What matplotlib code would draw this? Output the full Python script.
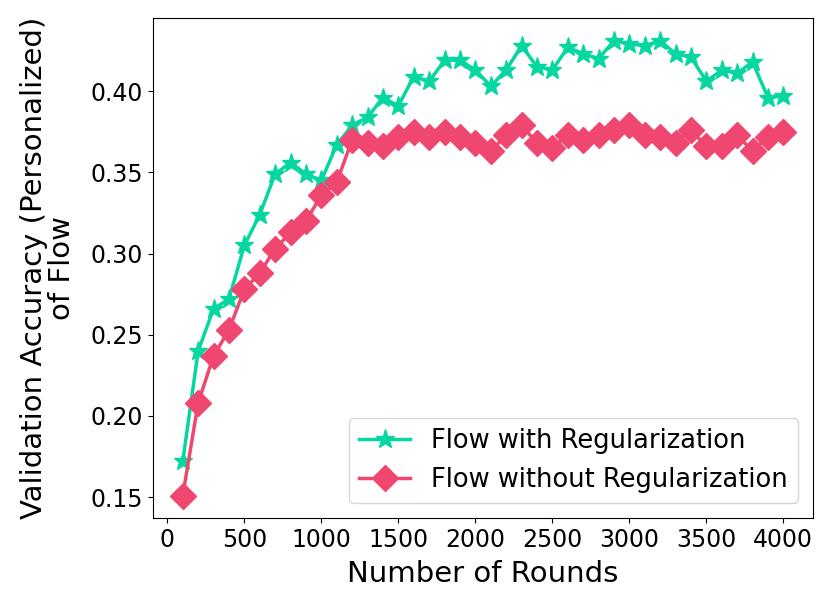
import numpy as np
import matplotlib
matplotlib.use('Agg')
import matplotlib.pyplot as plt

rounds = np.arange(100, 4001, 100)

acc_with_reg = [0.172, 0.240, 0.266, 0.272, 0.305, 0.324, 0.349, 0.356, 0.349, 0.345,
                0.367, 0.379, 0.384, 0.396, 0.391, 0.409, 0.406, 0.419, 0.419, 0.413,
                0.403, 0.413, 0.428, 0.415, 0.413, 0.427, 0.423, 0.420, 0.431, 0.429,
                0.428, 0.431, 0.423, 0.421, 0.406, 0.413, 0.411, 0.418, 0.396, 0.397]

acc_without_reg = [0.151, 0.208, 0.237, 0.253, 0.278, 0.288, 0.303, 0.313, 0.320, 0.336,
                   0.344, 0.370, 0.368, 0.366, 0.372, 0.375, 0.372, 0.375, 0.372, 0.368,
                   0.363, 0.373, 0.379, 0.368, 0.365, 0.373, 0.370, 0.373, 0.376, 0.379,
                   0.373, 0.372, 0.368, 0.376, 0.366, 0.366, 0.373, 0.363, 0.372, 0.375]

fig = plt.figure(figsize=(8.3, 6.02), dpi=100)
ax = fig.add_axes([0.184, 0.139, 0.796, 0.831])

ax.plot(rounds, acc_with_reg, color='#06d6a0', marker='*', markersize=14,
        linewidth=2.5, label='Flow with Regularization')
ax.plot(rounds, acc_without_reg, color='#ef476f', marker='D', markersize=13,
        linewidth=2.5, label='Flow without Regularization')

ax.set_xlabel('Number of Rounds', fontsize=21, labelpad=6)
ax.set_ylabel('Validation Accuracy (Personalized)\nof Flow', fontsize=21,
              linespacing=1.0, labelpad=10)
ax.tick_params(axis='both', labelsize=17)
ax.set_xticks(np.arange(0, 4001, 500))
ax.set_yticks([0.15, 0.20, 0.25, 0.30, 0.35, 0.40])

ax.legend(loc='lower right', fontsize=18.5, borderaxespad=0.6)

fig.savefig('out.png', dpi=100)
